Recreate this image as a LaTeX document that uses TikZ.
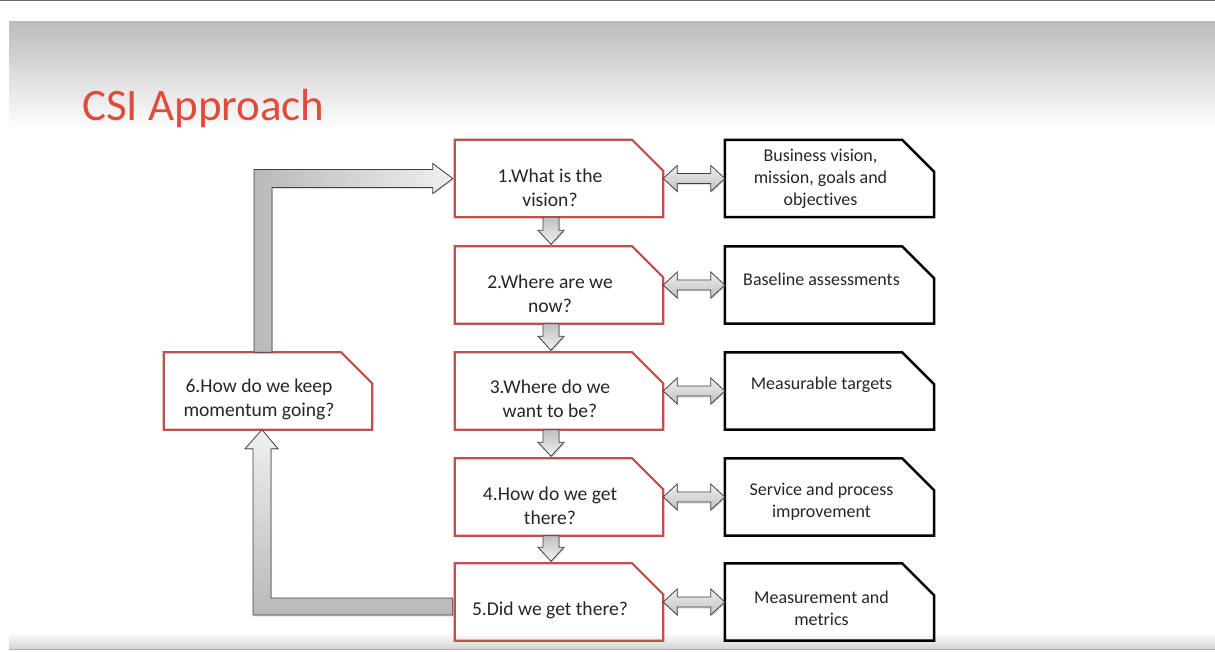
\documentclass[tikz,border=0pt]{standalone}
\usepackage{fontspec}
\setmainfont{Carlito}[Ligatures=NoCommon]
\usetikzlibrary{calc,shadows}
\definecolor{csired}{RGB}{224,76,60}
\definecolor{boxred}{RGB}{192,80,77}
\definecolor{txtgray}{RGB}{38,38,38}
\definecolor{arrline}{RGB}{64,64,64}
\tikzset{
  box/.style={minimum width=208pt, minimum height=77pt, inner sep=0pt},
  qtext/.style={align=center, text=txtgray, inner sep=0pt, font=\fontsize{19.6}{24}\selectfont},
  atext/.style={align=center, text=txtgray, inner sep=0pt, font=\fontsize{18}{22}\selectfont},
  redline/.style={draw=boxred, line width=2.2pt},
  blackline/.style={draw=black, line width=2.5pt},
  blockarrow/.style={draw=arrline, line width=0.8pt,
    drop shadow={shadow xshift=1pt, shadow yshift=-1.5pt, opacity=0.25}},
}
\begin{document}
\begin{tikzpicture}[x=1pt,y=-1pt]
\useasboundingbox (0,0) rectangle (1215,652);
% slide background
\shade[top color=gray!52, bottom color=white] (9,22) rectangle (1215,130);
\shade[top color=white, bottom color=gray!35] (9,633) rectangle (1215,649);
\draw[gray!60, line width=1.2pt] (9,649.5) -- (1215,649.5);
\draw[gray!80!black, line width=1.5pt] (0,0.75) -- (1215,0.75);
\node[anchor=base west, text=csired, inner sep=0pt, font=\fontsize{45}{54}\selectfont] (title) at (82,121) {CSI Approach};
% question boxes
\node[box] (q1) at (559,178.5) {};
\node[box] (q2) at (559,285) {};
\node[box] (q3) at (559,391) {};
\node[box] (q4) at (559,497) {};
\node[box] (q5) at (559,602) {};
\node[box] (q6) at (268,391) {};
% answer boxes
\node[box, minimum width=209pt] (b1) at (829.5,178.5) {};
\node[box, minimum width=209pt] (b2) at (829.5,285) {};
\node[box, minimum width=209pt] (b3) at (829.5,391) {};
\node[box, minimum width=209pt] (b4) at (829.5,497) {};
\node[box, minimum width=209pt] (b5) at (829.5,602) {};
% snipped outlines
\foreach \n in {q1,q2,q3,q4,q5,q6}
  \draw[redline] (\n.south west) -- (\n.north west) -- ([xshift=-31pt]\n.north east)
    -- ([yshift=-31pt]\n.north east) -- (\n.south east) -- cycle;
\foreach \n in {b1,b2,b3,b4,b5}
  \draw[blackline] (\n.south west) -- (\n.north west) -- ([xshift=-32pt]\n.north east)
    -- ([yshift=-32pt]\n.north east) -- (\n.south east) -- cycle;
% texts
\node[qtext] (t1) at ([shift={(-9,9)}]q1.center) {1.What is the\\vision?};
\node[qtext] (t2) at ([shift={(-9,9)}]q2.center) {2.Where are we\\now?};
\node[qtext] (t3) at ([shift={(-9,8)}]q3.center) {3.Where do we\\want to be?};
\node[qtext] (t4) at ([shift={(-9,9)}]q4.center) {4.How do we get\\there?};
\node[qtext] (t5) at ([shift={(-9,8)}]q5.center) {5.Did we get there?};
\node[qtext] (t6) at ([shift={(-9,8)}]q6.center) {6.How do we keep\\momentum going?};
\node[atext] (a1) at ([shift={(-9,0.5)}]b1.center) {Business vision,\\mission, goals and\\objectives};
\node[atext] (a2) at ([shift={(-8,-6)}]b2.center) {Baseline assessments};
\node[atext] (a3) at ([shift={(-8,-6)}]b3.center) {Measurable targets};
\node[atext] (a4) at ([shift={(-8,5)}]b4.center) {Service and process\\improvement};
\node[atext] (a5) at ([shift={(-8,6)}]b5.center) {Measurement and\\metrics};
% down arrows
\foreach \a/\b in {q1/q2,q2/q3,q3/q4,q4/q5}
  \path[blockarrow, top color=gray!50, bottom color=gray!10]
    ([xshift=-16pt]\a.south) -- ([xshift=-16pt,yshift=16pt]\b.north)
    -- ([xshift=-21pt,yshift=16pt]\b.north) -- ([xshift=-8pt,yshift=2pt]\b.north)
    -- ([xshift=5pt,yshift=16pt]\b.north) -- ([xshift=0pt,yshift=16pt]\b.north)
    -- (\a.south) -- cycle;
% double arrows
\foreach \a/\b in {q1/b1,q2/b2,q3/b3,q4/b4,q5/b5}
  \path[blockarrow, top color=gray!12, bottom color=gray!50]
    (\a.east) -- ([xshift=14pt,yshift=13pt]\a.east) -- ([xshift=14pt,yshift=5pt]\a.east)
    -- ([xshift=-14pt,yshift=5pt]\b.west) -- ([xshift=-14pt,yshift=13pt]\b.west)
    -- (\b.west) -- ([xshift=-14pt,yshift=-13pt]\b.west) -- ([xshift=-14pt,yshift=-5pt]\b.west)
    -- ([xshift=14pt,yshift=-5pt]\a.east) -- ([xshift=14pt,yshift=-13pt]\a.east) -- cycle;
% feedback loop
\path[blockarrow, left color=gray!55, right color=gray!12]
  ([xshift=-14pt]q6.north) |- ([xshift=-22pt,yshift=9pt]q1.west)
  -- ([xshift=-22pt,yshift=15pt]q1.west) -- ([xshift=-2pt]q1.west)
  -- ([xshift=-22pt,yshift=-15pt]q1.west) -- ([xshift=-22pt,yshift=-9pt]q1.west)
  -| ([xshift=4pt]q6.north) -- cycle;
\path[blockarrow, top color=gray!12, bottom color=gray!55]
  ([xshift=-2pt,yshift=4pt]q5.west) -| ([xshift=3pt,yshift=-19pt]q6.south)
  -- ([xshift=10pt,yshift=-19pt]q6.south) -- ([xshift=-6pt]q6.south)
  -- ([xshift=-23pt,yshift=-19pt]q6.south) -- ([xshift=-15pt,yshift=-19pt]q6.south)
  |- ([xshift=-2pt,yshift=-13pt]q5.west) -- cycle;
\end{tikzpicture}
\end{document}
